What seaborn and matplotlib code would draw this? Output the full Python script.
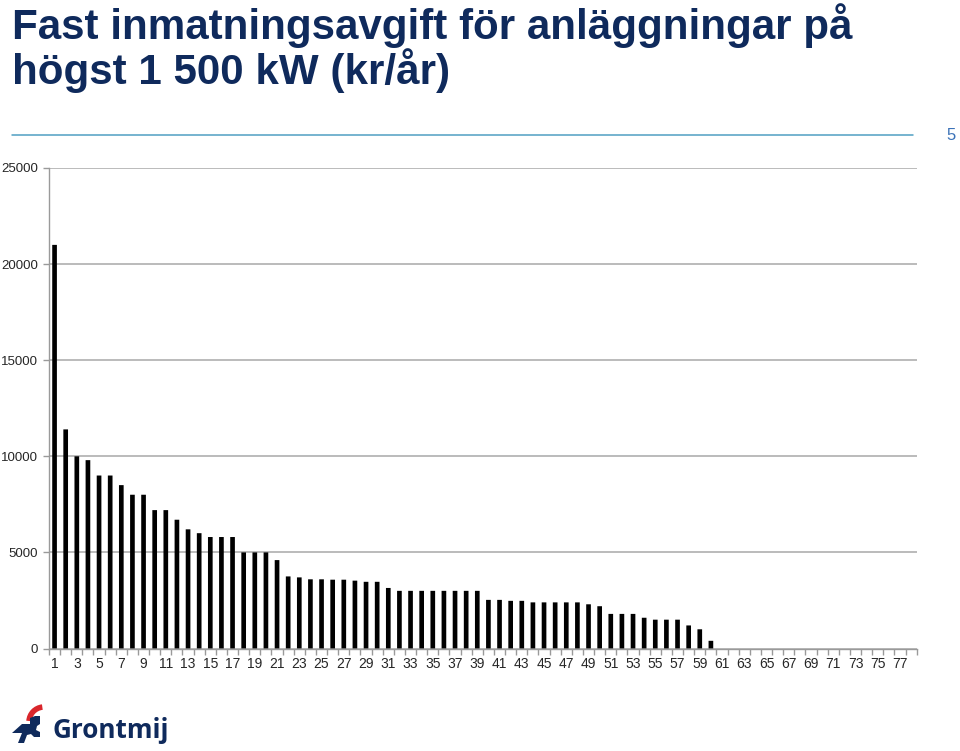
import numpy as np
import pandas as pd
import matplotlib
matplotlib.use("Agg")
import matplotlib.pyplot as plt
import seaborn as sns
from matplotlib.patches import Arc, Polygon
from matplotlib.lines import Line2D

# fixed feed-in fee per installation (kr/år), installations sorted by fee
anlaggning = list(range(1, 79))
avgift = [
    21000, 11400, 10000, 9800, 9000, 9000, 8500, 8000, 8000, 7200,
    7200, 6700, 6200, 6000, 5800, 5800, 5800, 5000, 5000, 5000,
    4600, 3750, 3700, 3600, 3600, 3580, 3580, 3530, 3470, 3470,
    3150, 3000, 3000, 3000, 3000, 3000, 3000, 3000, 3000, 2530,
    2530, 2480, 2480, 2400, 2400, 2400, 2400, 2400, 2300, 2200,
    1800, 1800, 1800, 1600, 1500, 1500, 1500, 1200, 1000, 400,
    0, 0, 0, 0, 0, 0, 0, 0, 0, 0,
    0, 0, 0, 0, 0, 0, 0, 0,
]
y_ticks = [0, 5000, 10000, 15000, 20000, 25000]
title_rad1 = "Fast inmatningsavgift för anläggningar på"
title_rad2 = "högst 1 500 kW (kr/år)"
sidnummer = "5"

df = pd.DataFrame({"nr": [str(n) for n in anlaggning], "avgift": avgift})

sns.set_theme(style="white")
plt.rcParams["font.family"] = ["Liberation Sans", "DejaVu Sans"]

W, H = 960, 751
fig = plt.figure(figsize=(W / 100, H / 100), dpi=100)


def fx(px):
    return px / W


def fy(py):
    return 1 - py / H


ax = fig.add_axes([fx(49), fy(648.5), fx(916.7 - 49), (648.5 - 168) / H])

sns.barplot(data=df, x="nr", y="avgift", order=df["nr"], color="black",
            saturation=1, width=0.42, errorbar=None, linewidth=0, ax=ax)
for bar in ax.patches:
    bar.set_snap(False)

ax.set_ylim(0, 25000)
ax.set_xlim(-0.5, len(anlaggning) - 0.5)
ax.set_yticks(y_ticks)
ax.set_yticklabels([str(v) for v in y_ticks], fontsize=9.5)
ax.yaxis.grid(True, color="#b5b5b5", linewidth=1.3)
ax.set_axisbelow(True)

pos = np.arange(0, len(anlaggning), 2)
ax.set_xticks(pos[:39])
ax.set_xticklabels([df["nr"][i] for i in pos[:39]], fontsize=10)
ax.set_xticks(np.arange(-0.5, len(anlaggning)), minor=True)
ax.tick_params(axis="x", which="major", length=0, pad=6)
ax.tick_params(axis="x", which="minor", length=4, color="#9a9a9a", width=1, bottom=True)
ax.tick_params(axis="y", which="major", length=4, color="#9a9a9a", width=1, left=True, pad=4)
ax.set_xlabel("")
ax.set_ylabel("")
for side in ["top", "right"]:
    ax.spines[side].set_visible(False)
for side in ["left", "bottom"]:
    ax.spines[side].set_color("#9a9a9a")
    ax.spines[side].set_linewidth(1)

navy = "#0f2a5c"
fig.text(fx(12), fy(39), title_rad1, fontsize=30.3, fontweight="bold",
         color=navy, ha="left", va="baseline")
fig.text(fx(12), fy(84), title_rad2, fontsize=30.3, fontweight="bold",
         color=navy, ha="left", va="baseline")

fig.add_artist(Line2D([fx(12), fx(913)], [fy(135), fy(135)],
                      color="#4f9fc2", linewidth=1.1, transform=fig.transFigure))
fig.text(fx(951), fy(136), sidnummer, fontsize=12, color="#3b72b8",
         ha="center", va="center")

# Grontmij logo
fig.text(fx(52), fy(738), "Grontmij", fontsize=18.8, fontweight="bold",
         color=navy, ha="left", va="baseline", family=["Open Sans", "DejaVu Sans"])
fig.add_artist(Arc((fx(44), fy(722)), fx(30), 30 / H, theta1=95, theta2=175,
                   color="#d9262c", linewidth=4, transform=fig.transFigure))
logo_pts = [(12, 733), (22, 724), (30, 724), (30, 718), (35, 716), (40, 716),
            (40, 724), (37, 726), (36, 730), (40, 732), (40, 737), (34, 737),
            (31, 734), (27, 735), (24, 743), (18, 743), (22, 733)]
fig.add_artist(Polygon([(fx(x), fy(y)) for x, y in logo_pts], closed=True,
                       facecolor=navy, edgecolor="none", transform=fig.transFigure))

fig.savefig("out.png", dpi=100)
